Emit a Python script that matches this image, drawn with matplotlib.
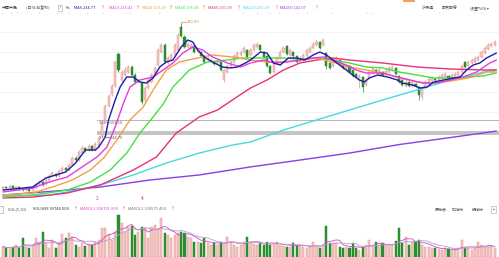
import matplotlib
matplotlib.use('Agg')
import matplotlib.pyplot as plt
import numpy as np
import pandas as pd

plt.rcParams['font.family'] = ['Noto Sans CJK SC', 'DejaVu Sans']

# ---------------- data (daily candles) ----------------
opens = [92.9, 94.7, 93.8, 95.6, 93.8, 94.7, 92.9, 92.0, 92.9, 91.2,
         93.8, 97.4, 99.1, 97.4, 100.9, 104.5, 106.2, 104.5, 108.9, 111.6,
         109.8, 114.2, 120.4, 118.6, 124.8, 129.3, 127.5, 131.0, 127.5, 131.0,
         139.9, 153.2, 166.5, 176.2, 184.2, 212.6, 189.5, 193.9, 196.6, 201.0,
         193.9, 187.7, 186.9, 171.8, 182.4, 187.7, 193.9, 202.8, 214.3, 220.5,
         204.6, 207.2, 211.7, 216.1, 236.5, 227.6, 218.8, 217.9, 219.6, 214.3,
         214.3, 210.8, 207.2, 206.4, 205.5, 204.6, 205.5, 189.5, 196.6, 201.9,
         205.5, 209.9, 211.7, 214.3, 216.1, 211.7, 216.1, 218.8, 220.5, 214.3,
         210.8, 201.9, 196.6, 203.7, 209.0, 214.3, 219.6, 211.7, 214.3, 210.8,
         205.5, 207.2, 210.8, 214.3, 217.9, 220.5, 223.2, 220.5, 213.4, 204.6,
         201.9, 205.5, 207.2, 202.8, 200.2, 201.9, 198.4, 194.8, 189.5, 192.2,
         185.1, 191.3, 195.7, 198.4, 194.8, 196.6, 194.8, 196.6, 198.4, 200.2,
         193.1, 189.5, 184.2, 187.7, 184.2, 186.0, 183.3, 174.5, 182.4, 186.0,
         188.6, 190.4, 189.5, 191.3, 192.2, 193.1, 192.2, 193.1, 193.9, 196.6,
         205.5, 201.9, 204.6, 205.5, 207.2, 209.9, 213.4, 216.9, 219.6, 220.5]
closes = [94.7, 93.8, 95.6, 93.8, 94.7, 92.9, 92.0, 93.8, 91.2, 93.8,
          97.4, 99.1, 96.5, 100.9, 104.5, 107.1, 104.5, 108.9, 111.6, 109.8,
          114.2, 120.4, 118.6, 125.7, 129.3, 127.5, 131.0, 127.5, 132.8, 138.1,
          152.3, 166.5, 175.3, 184.2, 205.5, 198.4, 196.6, 198.4, 201.0, 193.9,
          187.7, 189.5, 170.0, 182.4, 189.5, 193.9, 200.2, 216.1, 220.5, 205.5,
          209.0, 211.7, 220.5, 229.4, 228.5, 218.8, 221.4, 220.5, 214.3, 216.1,
          210.8, 205.5, 209.0, 207.2, 203.7, 206.4, 198.4, 198.4, 201.9, 205.5,
          210.8, 213.4, 214.3, 217.9, 209.9, 216.1, 220.5, 221.4, 216.1, 209.9,
          201.9, 195.7, 203.7, 209.0, 214.3, 217.9, 212.6, 216.1, 210.8, 205.5,
          209.0, 211.7, 216.1, 217.9, 221.4, 223.2, 217.9, 224.9, 201.9, 200.2,
          207.2, 209.0, 204.6, 200.2, 201.9, 196.6, 193.1, 192.2, 193.1, 183.3,
          189.5, 196.6, 200.2, 196.6, 198.4, 193.9, 197.5, 200.2, 201.0, 194.8,
          187.7, 185.1, 187.7, 184.2, 187.7, 184.2, 176.2, 182.4, 187.7, 190.4,
          191.3, 189.5, 192.2, 193.9, 194.8, 191.3, 193.9, 194.8, 196.6, 201.9,
          201.0, 205.5, 207.2, 209.0, 209.9, 214.3, 217.9, 220.5, 221.4, 223.2]
highs = [95.6, 95.6, 96.5, 96.5, 95.6, 95.6, 93.8, 94.7, 93.8, 94.7,
         98.3, 100.9, 100.0, 102.7, 106.2, 108.9, 107.1, 110.7, 113.3, 112.5,
         116.0, 122.2, 122.2, 127.5, 131.9, 130.1, 132.8, 131.9, 134.6, 139.9,
         154.1, 168.2, 177.1, 186.0, 207.2, 214.3, 198.4, 201.0, 202.8, 202.8,
         195.7, 191.3, 187.7, 184.2, 191.3, 195.7, 201.9, 217.9, 222.3, 222.3,
         210.8, 213.4, 222.3, 231.1, 240.0, 229.4, 223.2, 222.3, 220.5, 217.9,
         215.2, 211.7, 210.8, 209.0, 206.4, 207.2, 206.4, 199.3, 203.7, 207.2,
         212.6, 215.2, 216.1, 219.6, 217.0, 217.9, 222.3, 223.2, 221.4, 215.2,
         211.7, 202.8, 205.5, 210.8, 216.1, 219.6, 220.5, 217.9, 215.2, 211.7,
         210.8, 213.4, 217.9, 219.6, 223.2, 225.8, 224.0, 226.7, 214.3, 205.5,
         209.0, 210.8, 208.1, 203.7, 203.7, 202.8, 199.3, 195.7, 194.8, 193.1,
         191.3, 198.4, 201.9, 199.3, 200.2, 197.5, 199.3, 201.9, 202.8, 201.0,
         193.9, 190.4, 189.5, 188.6, 189.5, 186.9, 184.2, 184.2, 189.5, 192.2,
         193.1, 191.3, 193.9, 195.7, 196.6, 193.9, 195.7, 196.6, 198.4, 203.7,
         206.4, 207.2, 209.0, 210.8, 211.7, 216.1, 219.6, 222.3, 223.2, 224.9]
lows = [92.0, 92.9, 92.9, 92.9, 92.9, 92.0, 91.2, 91.2, 90.3, 90.3,
        92.9, 96.5, 95.6, 96.5, 100.0, 103.6, 103.6, 103.6, 108.0, 108.9,
        108.9, 113.3, 117.8, 117.8, 123.9, 125.7, 126.6, 126.6, 126.6, 130.1,
        139.0, 152.3, 165.6, 175.3, 183.3, 196.6, 187.7, 193.1, 195.7, 193.1,
        186.9, 186.9, 168.2, 170.0, 181.6, 186.9, 193.1, 201.9, 213.4, 204.6,
        203.7, 206.4, 210.8, 215.2, 227.6, 217.9, 217.9, 217.0, 213.4, 213.4,
        209.9, 204.6, 206.4, 205.5, 202.8, 203.7, 197.5, 187.7, 195.7, 201.0,
        204.6, 209.0, 210.8, 213.4, 209.0, 210.8, 215.2, 217.9, 215.2, 209.0,
        201.0, 194.8, 195.7, 202.8, 208.1, 213.4, 211.7, 210.8, 209.9, 204.6,
        204.6, 206.4, 209.9, 213.4, 217.0, 219.6, 217.0, 219.6, 199.3, 199.3,
        201.0, 204.6, 203.7, 199.3, 199.3, 195.7, 192.2, 191.3, 182.4, 178.9,
        184.2, 190.4, 194.8, 195.7, 193.9, 193.1, 193.9, 195.7, 197.5, 193.9,
        186.9, 184.2, 183.3, 183.3, 183.3, 183.3, 171.8, 171.8, 181.6, 185.1,
        187.7, 188.6, 188.6, 190.4, 191.3, 190.4, 191.3, 192.2, 193.1, 195.7,
        200.2, 201.0, 203.7, 204.6, 206.4, 209.0, 212.6, 216.1, 218.8, 219.6]
volumes = [52000, 44000, 44000, 52000, 60000, 45000, 94000, 52000, 46000, 60000,
           94000, 75000, 127000, 69000, 44000, 85000, 44000, 70000, 114000, 94000,
           119000, 100000, 60000, 52000, 69000, 55000, 64000, 60000, 75000, 85000,
           144000, 144000, 114000, 85000, 125000, 210000, 169000, 127000, 152000, 157000,
           110000, 127000, 149000, 144000, 94000, 152000, 160000, 140000, 194000, 119000,
           110000, 94000, 110000, 120000, 127000, 119000, 102000, 94000, 77000, 77000,
           69000, 94000, 69000, 60000, 69000, 60000, 77000, 60000, 102000, 77000,
           60000, 52000, 60000, 77000, 102000, 77000, 65000, 60000, 69000, 60000,
           77000, 60000, 60000, 77000, 60000, 55000, 52000, 52000, 69000, 55000,
           60000, 52000, 44000, 50000, 77000, 52000, 47000, 60000, 157000, 69000,
           72000, 69000, 50000, 44000, 52000, 44000, 69000, 45000, 35000, 52000,
           60000, 85000, 52000, 77000, 60000, 69000, 55000, 60000, 60000, 80000,
           144000, 69000, 102000, 60000, 77000, 77000, 85000, 60000, 52000, 50000,
           44000, 44000, 40000, 35000, 44000, 40000, 35000, 35000, 45000, 85000,
           44000, 44000, 35000, 44000, 77000, 60000, 52000, 52000, 50000, 45000]

# moving-average lines (candle index, price)
ma5_i = [0, 9, 13, 19, 22, 25, 28, 29, 31, 32, 34, 35.5, 37.5, 39.5, 41.5, 43.5, 45.5, 47.5, 49.5, 51.5,
         54, 56, 57.5, 59, 61, 63.5, 66.5, 69, 71, 73.5, 75, 78, 80, 82, 84, 86.5, 89, 91.5, 94, 96,
         98, 100, 102, 104, 106, 108, 109.5, 111, 113.5, 116.5, 119.5, 121, 124, 126.5, 128.5, 130.5,
         133.5, 136.5, 138.5, 140.5, 142.5, 144.5, 146.5, 149.5]
ma5_v = [92.0, 94.7, 102.7, 108.0, 116.0, 127.5, 127.5, 130.1, 139.0, 154.1, 171.8, 183.3, 192.2, 192.2,
         187.7, 186.9, 191.3, 201.0, 205.5, 207.2, 218.8, 224.9, 223.2, 216.1, 209.9, 205.5, 201.0, 200.2,
         201.0, 204.6, 207.2, 214.3, 213.4, 204.6, 202.8, 209.0, 209.0, 207.2, 211.7, 214.3, 211.7, 207.2,
         202.8, 198.4, 193.9, 189.5, 187.7, 191.3, 193.9, 192.2, 189.5, 186.9, 185.1, 182.4, 183.3, 187.7,
         189.5, 191.3, 192.2, 198.4, 202.8, 204.6, 209.0, 213.4]
ma10_i = [0, 9, 14, 19.5, 24, 28.5, 31.5, 34, 36.5, 38.5, 41.5, 45.5, 48.5, 51.5, 54.5, 57.5, 60.5, 63.5,
          68, 72, 75, 79, 82, 86, 90, 94, 97, 100, 104, 107, 110, 115, 119.5, 123.5, 127, 131.5, 135.5,
          139.5, 143.5, 147.5, 149.5]
ma10_v = [90.3, 93.8, 99.1, 103.6, 112.5, 121.3, 130.1, 147.9, 169.0, 183.3, 189.5, 192.2, 198.4, 204.6,
          213.4, 218.8, 216.1, 209.9, 204.6, 201.0, 204.6, 207.2, 204.6, 205.5, 207.2, 209.0, 209.9, 207.2,
          202.8, 198.4, 195.7, 195.7, 192.2, 189.5, 186.9, 186.9, 189.5, 192.2, 196.6, 204.6, 207.2]
ma20_i = [0, 9, 15, 21, 26.5, 30.5, 34.5, 38.5, 42.5, 45.5, 49.5, 53.5, 59, 63.5, 69.5, 75, 80, 85, 90,
          95, 100, 105, 110, 115, 120, 125.5, 129.5, 133.5, 137.5, 142.5, 146.5, 149.5]
ma20_v = [87.6, 89.4, 94.7, 100.9, 109.8, 120.4, 136.3, 154.1, 165.6, 180.7, 198.4, 205.5, 209.0, 211.7,
          209.9, 207.2, 205.5, 205.5, 207.2, 209.0, 205.5, 201.0, 198.4, 195.7, 191.3, 187.7, 186.9, 187.7,
          189.5, 192.2, 196.6, 196.6]
ma30_i = [0, 9, 19.5, 26.5, 32.5, 37.5, 41.5, 45.5, 48.5, 51.5, 56.5, 62, 68, 72.5, 80, 85, 90, 95, 100,
          105, 110, 115, 120, 125.5, 130.5, 135.5, 140.5, 145.5, 149.5]
ma30_v = [85.8, 87.6, 92.0, 99.1, 109.8, 124.8, 142.5, 156.8, 168.0, 183.3, 198.4, 205.5, 207.2, 209.0,
          209.0, 209.0, 208.1, 209.0, 207.2, 204.6, 201.0, 200.2, 196.6, 193.9, 191.3, 191.3, 192.2, 193.1,
          195.7]
ma60_i = [0, 9, 19.5, 29.5, 39.5, 46.5, 52.5, 59.5, 65, 69.5, 75, 80, 85, 90, 95, 100, 105, 115, 125.5,
          135.5, 145.5, 149.5]
ma60_v = [85.0, 85.8, 89.4, 96.5, 109.8, 121.3, 142.5, 156.8, 162.9, 171.8, 182.4, 189.5, 198.4, 204.6,
          207.2, 209.0, 207.2, 204.6, 201.0, 199.3, 198.4, 198.4]
ma120_i = [0, 14, 19.5, 29.5, 39.5, 49.5, 59.5, 69.5, 75, 85, 95, 105, 115, 125.5, 130.5, 135.5, 140.5,
           145.5, 149.5]
ma120_v = [86.7, 87.6, 90.3, 96.5, 105.4, 116.0, 124.8, 131.9, 134.6, 145.2, 154.1, 162.9, 171.8, 180.7,
           185.1, 189.5, 192.2, 196.6, 198.4]
ma250_i = [0, 19.5, 29.5, 44.5, 59.5, 75, 90, 105, 120, 135.5, 147.5, 149.5]
ma250_v = [87.6, 92.0, 94.7, 100.9, 105.4, 112.5, 118.6, 124.8, 132.3, 138.5, 143.4, 144.3]

ma_labels = ['MA5 234.77', 'MA10 216.42', 'MA20 203.29', 'MA30 196.08',
             'MA60 201.09', 'MA120 201.20', 'MA250 141.67']
vol_labels = ['VOL(5,10)', 'VOLUME 99744.000', 'MAVOL1 108791.000', 'MAVOL2 104575.400']
peak_price = 240.00
range_hi = 154.10
range_lo = 144.70

# ---------------- styling ----------------
W, H = 499, 257
UP_FACE, UP_EDGE = '#f4c6c2', '#e09490'
DN = '#2d8c2d'
MA_COLORS = ['#1c1ca8', '#e23ce2', '#f5a043', '#44e044', '#e8307c', '#45d9e3', '#8a3fe6']
FS = 2.9

fig = plt.figure(figsize=(W / 100, H / 100), dpi=100)
fig.patch.set_facecolor('white')

def fx(px):
    return px / W

def fy(py):
    return 1 - py / H

# price panel: y pixels 15..200
axp = fig.add_axes([0, fy(200), 1, (200 - 15) / H])
axv = fig.add_axes([0, 0, 1, 44 / H])
n = len(closes)
idx = np.arange(n)
for a in (axp, axv):
    a.set_xlim(-0.9, 150.3)
    a.axis('off')
axp.set_ylim(83.2, 247.1)
axv.set_ylim(0, 220000)

# faint grid
for g in [232.4, 214.3, 196.6, 178.9, 161.2]:
    axp.axhline(g, color='#efefef', lw=0.5, zorder=0)

# range lines
axp.plot([28.5, 150.3], [range_hi, range_hi], color='#b5b5b5', lw=0.7, zorder=1)
axp.fill_between([28.5, 150.3], range_lo - 4.3, range_lo - 0.2, color='#c4c4c4', lw=0, zorder=1)
axp.text(29, 151.4, '3.31→%.2f' % range_hi, fontsize=FS, color='#666666', va='center', zorder=5)
axp.text(29, 138.0, '3.31→%.2f' % range_lo, fontsize=FS, color='#666666', va='center', zorder=5)

o = np.array(opens); c = np.array(closes); h = np.array(highs); l = np.array(lows)
up = c >= o
cols_edge = np.where(up, UP_EDGE, DN)
axp.vlines(idx, l, h, colors=cols_edge, lw=0.5, zorder=2)
body_b = np.minimum(o, c)
body_h = np.maximum(np.abs(c - o), 0.4)
axp.bar(idx[up], body_h[up], bottom=body_b[up], width=0.62, color=UP_FACE,
        edgecolor=UP_EDGE, lw=0.35, zorder=3)
axp.bar(idx[~up], body_h[~up], bottom=body_b[~up], width=0.62, color=DN,
        edgecolor=DN, lw=0.35, zorder=3)

# moving averages (long ones under short ones)
ma_series = [(ma5_i, ma5_v), (ma10_i, ma10_v), (ma20_i, ma20_v), (ma30_i, ma30_v),
             (ma60_i, ma60_v), (ma120_i, ma120_v), (ma250_i, ma250_v)]
for k in range(6, -1, -1):
    xi, yv = ma_series[k]
    axp.plot(xi, yv, color=MA_COLORS[k], lw=1.0, zorder=4, solid_capstyle='round')

# peak annotation
axp.plot([54, 55.6], [peak_price, 240.8], color='#d9873a', lw=0.5, zorder=5)
axp.text(55.7, 240.8, '%.2f' % peak_price, fontsize=FS, color='#d9873a', va='center', zorder=5)

# volume bars
v = np.array(volumes)
axv.bar(idx[up], v[up], width=0.62, color=UP_FACE, edgecolor=UP_EDGE, lw=0.35)
axv.bar(idx[~up], v[~up], width=0.62, color=DN, edgecolor=DN, lw=0.35)
vs = pd.Series(v)
axv.plot(idx, vs.rolling(5, min_periods=1).mean(), color='#e040d0', lw=0.6)
axv.plot(idx, vs.rolling(10, min_periods=1).mean(), color='#a8a8c8', lw=0.6)

# header texts
ty = fy(8)
fig.text(fx(2), ty, '中国中免', fontsize=FS, color='#333333', va='center')
fig.text(fx(26), ty, '(日线 前复权)', fontsize=FS, color='#555555', va='center')
fig.text(fx(59), ty, '?', fontsize=FS, color='#777777', va='center',
         bbox=dict(boxstyle='square,pad=0.25', fc='white', ec='#aaaaaa', lw=0.4))
fig.text(fx(66), ty, 'Ks', fontsize=FS, color='#555555', va='center')
lab_x = [74, 109, 142, 175, 208, 243, 280]
arr_x = [100.5, 136, 169, 202, 236.5, 274.5, 314.5]
for k in range(7):
    fig.text(fx(lab_x[k]), ty, ma_labels[k], fontsize=FS, color=MA_COLORS[k], va='center')
    fig.text(fx(arr_x[k]), ty, '↑', fontsize=FS, color='#e03030', va='center')
fig.text(fx(422), ty, '沪深通', fontsize=FS, color='#555555', va='center')
fig.text(fx(442), ty, '融资融券', fontsize=FS, color='#555555', va='center')
fig.text(fx(470), ty, '设置均线 ▾', fontsize=FS, color='#555555', va='center')
fig.patches.append(plt.Rectangle((fx(403), fy(1.5)), fx(12), 1.5 / H, transform=fig.transFigure,
                                 color='#f0a060', lw=0))
for px in [3, 12, 18, 40, 58, 62, 70, 88, 103, 127, 130, 160, 243, 258, 270, 280, 298, 308, 332,
           368, 372, 440, 475, 482]:
    fig.text(fx(px), fy(13.5), '+', fontsize=2.2, color='#aaaaaa', va='center', ha='center')

# markers below price panel
fig.text(fx(97), fy(199), '2', fontsize=3.4, color='#e040c0', va='center', ha='center')
fig.text(fx(142), fy(199), '4', fontsize=3.4, color='#e03030', va='center', ha='center')

# volume header
vy = fy(209.5)
fig.text(fx(0.5), vy, ' ', fontsize=FS, va='center',
         bbox=dict(boxstyle='square,pad=0.3', fc='white', ec='#999999', lw=0.4))
fig.text(fx(8), vy, vol_labels[0], fontsize=FS, color='#555555', va='center')
fig.text(fx(33), vy, vol_labels[1], fontsize=FS, color='#333333', va='center')
fig.text(fx(74), vy, '↑', fontsize=FS, color='#e03030', va='center')
fig.text(fx(80), vy, vol_labels[2], fontsize=FS, color='#e040d0', va='center')
fig.text(fx(122), vy, '↑', fontsize=FS, color='#e03030', va='center')
fig.text(fx(128), vy, vol_labels[3], fontsize=FS, color='#777777', va='center')
fig.text(fx(171), vy, '↑', fontsize=FS, color='#e03030', va='center')
fig.text(fx(435), vy, '历史表', fontsize=FS, color='#555555', va='center')
fig.text(fx(452), vy, '加指标', fontsize=FS, color='#555555', va='center')
fig.text(fx(472), vy, '换指标', fontsize=FS, color='#555555', va='center')
fig.text(fx(492.5), vy, '▾', fontsize=FS, color='#777777', va='center',
         bbox=dict(boxstyle='square,pad=0.3', fc='white', ec='#aaaaaa', lw=0.4))

fig.savefig('out.png', dpi=100, facecolor='white')
